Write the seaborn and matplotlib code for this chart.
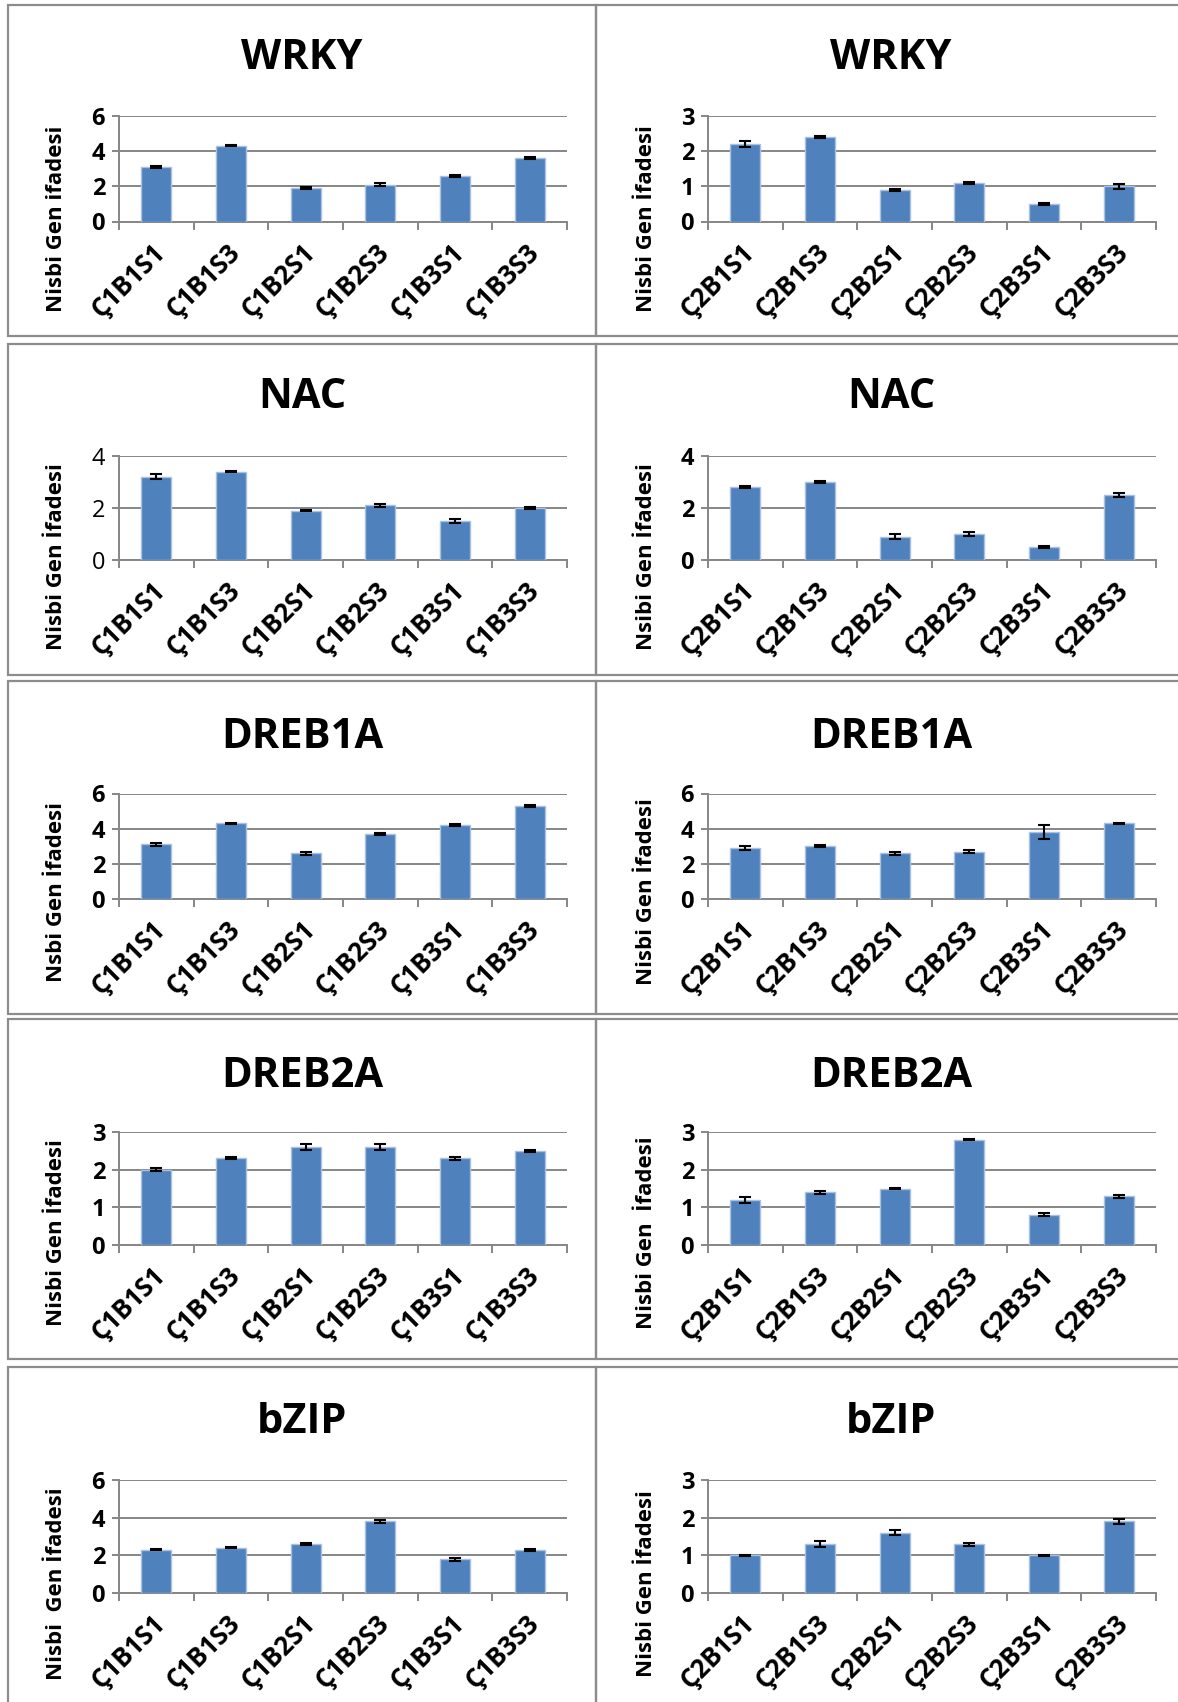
import numpy as np
import pandas as pd
import matplotlib
matplotlib.use("Agg")
import matplotlib.pyplot as plt
import matplotlib.transforms as mtransforms
from matplotlib.patches import Rectangle
import seaborn as sns

# ---- data -------------------------------------------------------------
genes = ["WRKY", "NAC", "DREB1A", "DREB2A", "bZIP"]

c1_groups = ["Ç1B1S1", "Ç1B1S3", "Ç1B2S1", "Ç1B2S3", "Ç1B3S1", "Ç1B3S3"]
c2_groups = ["Ç2B1S1", "Ç2B1S3", "Ç2B2S1", "Ç2B2S3", "Ç2B3S1", "Ç2B3S3"]

wrky_c1 = [3.1, 4.3, 1.9, 2.1, 2.6, 3.6]
wrky_c1_err = [0.03, 0.03, 0.04, 0.08, 0.07, 0.05]
wrky_c2 = [2.2, 2.4, 0.9, 1.1, 0.5, 1.0]
wrky_c2_err = [0.08, 0.03, 0.02, 0.02, 0.04, 0.08]

nac_c1 = [3.2, 3.4, 1.9, 2.1, 1.5, 2.0]
nac_c1_err = [0.10, 0.02, 0.03, 0.07, 0.08, 0.04]
nac_c2 = [2.8, 3.0, 0.9, 1.0, 0.5, 2.5]
nac_c2_err = [0.03, 0.05, 0.10, 0.09, 0.02, 0.08]

dreb1a_c1 = [3.1, 4.3, 2.6, 3.7, 4.2, 5.3]
dreb1a_c1_err = [0.08, 0.03, 0.08, 0.06, 0.07, 0.04]
dreb1a_c2 = [2.9, 3.0, 2.6, 2.7, 3.8, 4.3]
dreb1a_c2_err = [0.10, 0.06, 0.08, 0.10, 0.40, 0.03]

dreb2a_c1 = [2.0, 2.3, 2.6, 2.6, 2.3, 2.5]
dreb2a_c1_err = [0.04, 0.03, 0.07, 0.09, 0.04, 0.02]
dreb2a_c2 = [1.2, 1.4, 1.5, 2.8, 0.8, 1.3]
dreb2a_c2_err = [0.08, 0.04, 0.02, 0.02, 0.04, 0.04]

bzip_c1 = [2.3, 2.4, 2.6, 3.8, 1.8, 2.3]
bzip_c1_err = [0.04, 0.03, 0.03, 0.06, 0.08, 0.05]
bzip_c2 = [1.0, 1.3, 1.6, 1.3, 1.0, 1.9]
bzip_c2_err = [0.02, 0.07, 0.06, 0.04, 0.01, 0.06]

c1_values = [wrky_c1, nac_c1, dreb1a_c1, dreb2a_c1, bzip_c1]
c1_errors = [wrky_c1_err, nac_c1_err, dreb1a_c1_err, dreb2a_c1_err, bzip_c1_err]
c2_values = [wrky_c2, nac_c2, dreb1a_c2, dreb2a_c2, bzip_c2]
c2_errors = [wrky_c2_err, nac_c2_err, dreb1a_c2_err, dreb2a_c2_err, bzip_c2_err]

# y-axis maxima and tick steps per gene (col 1, col 2)
c1_ymax = [6, 4, 6, 3, 6]
c1_ystep = [2, 2, 2, 1, 2]
c2_ymax = [3, 4, 6, 3, 3]
c2_ystep = [1, 2, 2, 1, 1]

c1_ylabels = ["Nisbi Gen ifadesi", "Nisbi Gen İfadesi", "Nsbi Gen İfadesi",
              "Nisbi Gen İfadesi", "Nisbi  Gen İfadesi"]
c2_ylabels = ["Nisbi Gen İfadesi", "Nsibi Gen İfadesi", "Nisbi Gen İfadesi",
              "Nisbi Gen  İfadesi", "Nisbi Gen İfadesi"]

# ---- style ------------------------------------------------------------
sns.set_theme(style="white")
plt.rcParams["font.family"] = ["Open Sans", "DejaVu Sans"]

W, H = 1178, 1702
DPI = 100
fig = plt.figure(figsize=(W / DPI, H / DPI), dpi=DPI)
fig.patch.set_facecolor("white")

BAR = "#4F81BD"
EDGE = "#A9C1E0"
GRID = "#868686"
FRAME = "#8C8C8C"


def fx(px):
    return px / W


def fy(py):
    return 1 - py / H


# pixel layout of the grid of panels
col_axes_x = [(119, 567), (708, 1156)]
row_axes_y = [(116, 221.5), (456, 560), (793.5, 899), (1132, 1245), (1480, 1593)]
title_x = [302, 891]
title_base_y = [69, 408, 748, 1087, 1433]
ylabel_x = [57, 647]
ylabel_cy = [219, 557, 892, 1233, 1584]
frame_x = [(7.6, 596), (596, 1200)]
frame_y = [(5.4, 335.5), (344, 675), (681, 1014), (1019, 1359), (1367, 1720)]

# panel frames
for (x0, x1) in frame_x:
    for (y0, y1) in frame_y:
        fig.patches.append(Rectangle((fx(x0), fy(y1)), fx(x1 - x0), (y1 - y0) / H,
                                     transform=fig.transFigure, fill=False,
                                     edgecolor=FRAME, linewidth=1.6, zorder=0))

label_shift = mtransforms.ScaledTranslation(0.05, 0, fig.dpi_scale_trans)

for col in range(2):
    groups = c1_groups if col == 0 else c2_groups
    values_all = c1_values if col == 0 else c2_values
    errors_all = c1_errors if col == 0 else c2_errors
    ymaxes = c1_ymax if col == 0 else c2_ymax
    ysteps = c1_ystep if col == 0 else c2_ystep
    ylabels = c1_ylabels if col == 0 else c2_ylabels

    for row, gene in enumerate(genes):
        x0, x1 = col_axes_x[col]
        yt, yb = row_axes_y[row]
        ax = fig.add_axes([fx(x0), fy(yb), fx(x1 - x0), (yb - yt) / H])

        df = pd.DataFrame({"grup": groups, "ifade": values_all[row]})
        sns.barplot(data=df, x="grup", y="ifade", color=BAR, saturation=1,
                    width=0.4, edgecolor=EDGE, linewidth=1.0, errorbar=None,
                    ax=ax, zorder=3)
        ax.errorbar(np.arange(len(groups)), values_all[row], yerr=errors_all[row],
                    fmt="none", ecolor="black", elinewidth=1.5, capsize=4.5,
                    capthick=1.5, zorder=4)

        ax.set_xlim(-0.5, len(groups) - 0.5)
        ax.set_ylim(0, ymaxes[row])
        ax.set_yticks(np.arange(0, ymaxes[row] + 0.01, ysteps[row]))
        ax.yaxis.grid(True, color=GRID, linewidth=1.4)
        ax.set_axisbelow(True)
        ax.set_xlabel("")
        ax.set_ylabel("")

        for side in ("top", "right"):
            ax.spines[side].set_visible(False)
        for side in ("left", "bottom"):
            ax.spines[side].set_color(GRID)
            ax.spines[side].set_linewidth(1.4)

        # y ticks
        bold_y = not (col == 0 and gene == "NAC")
        ax.tick_params(axis="y", which="major", left=True, length=5, width=1.4,
                       color=GRID, pad=5, labelsize=17)
        for t in ax.get_yticklabels():
            t.set_fontweight("bold" if bold_y else "normal")
            t.set_color("black")

        # category boundary tick marks
        ax.set_xticks(np.arange(-0.5, len(groups), 1.0), minor=True)
        ax.tick_params(axis="x", which="minor", bottom=True, length=6, width=1.4,
                       color=GRID)
        ax.tick_params(axis="x", which="major", bottom=False, length=0, pad=19)
        ax.set_xticks(np.arange(len(groups)))
        ax.set_xticklabels(groups, rotation=45, ha="right", va="center",
                           rotation_mode="anchor", fontsize=18.5,
                           fontweight="bold", color="black")
        for t in ax.get_xticklabels():
            t.set_transform(t.get_transform() + label_shift)

        fig.text(fx(title_x[col]), fy(title_base_y[row]), gene, ha="center",
                 va="baseline", fontsize=30, fontweight="bold", color="black")
        fig.text(fx(ylabel_x[col]), fy(ylabel_cy[row]), ylabels[row],
                 rotation=90, ha="center", va="center", fontsize=16,
                 fontweight="bold", color="black")

fig.savefig("out.png", dpi=DPI, facecolor="white")
